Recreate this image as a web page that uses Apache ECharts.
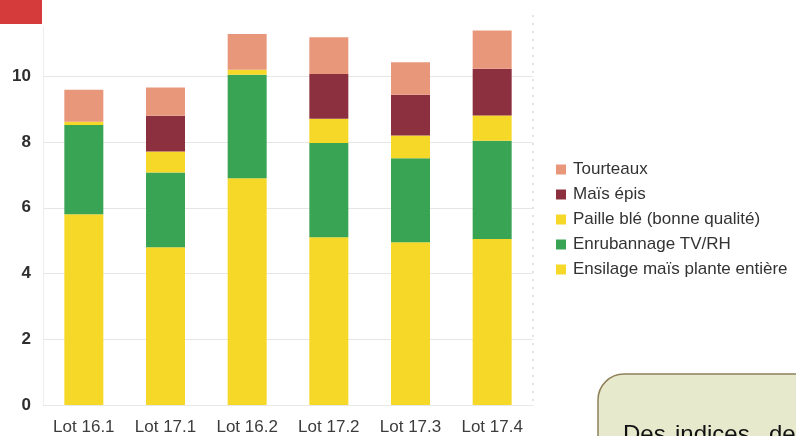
<!DOCTYPE html>
<html>
<head>
<meta charset="utf-8">
<script src="https://cdn.jsdelivr.net/npm/echarts@6/dist/echarts.min.js"></script>
<style>
  html, body { margin: 0; padding: 0; background: #ffffff; }
  #chart { width: 796px; height: 436px; }
</style>
</head>
<body>
<div id="chart"></div>
<script>
// Ration composition per lot (stacked, kg MS)
const categories = ['Lot 16.1', 'Lot 17.1', 'Lot 16.2', 'Lot 17.2', 'Lot 17.3', 'Lot 17.4'];
const ensilageMais = [5.8, 4.8, 6.9, 5.1, 4.95, 5.05];
const enrubannage  = [2.72, 2.27, 3.15, 2.87, 2.56, 2.99];
const pailleBle    = [0.1, 0.64, 0.15, 0.74, 0.69, 0.77];
const maisEpis     = [0, 1.09, 0, 1.36, 1.24, 1.42];
const tourteaux    = [0.97, 0.86, 1.09, 1.12, 0.99, 1.16];
const yTicks = [0, 2, 4, 6, 8, 10];

const YELLOW = '#f6d829';
const FONT = 'Liberation Sans, Arial, sans-serif';
const seriesDefs = [
  { name: 'Ensilage maïs plante entière', data: ensilageMais, color: YELLOW },
  { name: 'Enrubannage TV/RH', data: enrubannage, color: '#3aa455' },
  { name: 'Paille blé (bonne qualité)', data: pailleBle, color: YELLOW },
  { name: 'Maïs épis', data: maisEpis, color: '#8c3040' },
  { name: 'Tourteaux', data: tourteaux, color: '#e9977b' }
];

// grid lines only on the labelled ticks, none on the axis top
const gridColors = yTicks.map(() => '#e6e6e6').concat(['rgba(0,0,0,0)']);

const chart = echarts.init(document.getElementById('chart'), null, { renderer: 'canvas' });

chart.setOption({
  animation: false,
  backgroundColor: '#ffffff',
  grid: { left: 43, right: 263, top: 27, bottom: 31, containLabel: false },
  legend: {
    orient: 'vertical',
    left: 556,
    top: 161,
    padding: 0,
    itemWidth: 10,
    itemHeight: 10,
    itemGap: 8,
    icon: 'rect',
    data: ['Tourteaux', 'Maïs épis', 'Paille blé (bonne qualité)', 'Enrubannage TV/RH', 'Ensilage maïs plante entière'],
    textStyle: { color: '#333333', fontSize: 17, fontFamily: FONT, padding: [0, 0, 0, 2] }
  },
  xAxis: {
    type: 'category',
    data: categories,
    axisLine: { show: true, lineStyle: { color: '#e8e8e8' } },
    axisTick: { show: false },
    axisLabel: { color: '#3c3c3c', fontSize: 17, fontFamily: FONT, margin: 14 }
  },
  yAxis: {
    type: 'value',
    min: 0,
    max: 11.5,
    interval: 2,
    axisLine: { show: true, lineStyle: { color: '#eeeeee' } },
    axisTick: { show: false },
    axisLabel: {
      color: '#2e2e2e', fontSize: 17, fontWeight: 'bold', margin: 12,
      fontFamily: FONT,
      formatter: v => (yTicks.indexOf(v) >= 0 ? String(v) : '')
    },
    splitLine: { lineStyle: { color: gridColors } }
  },
  series: seriesDefs.map(s => ({
    name: s.name,
    type: 'bar',
    stack: 'total',
    barWidth: 39,
    data: s.data,
    itemStyle: { color: s.color }
  })),
  graphic: [
    { type: 'rect', left: 0, top: 0, shape: { width: 42, height: 24 }, style: { fill: '#d63b3b' } },
    { type: 'line', shape: { x1: 533, y1: 15, x2: 533, y2: 405 }, style: { stroke: '#c8c8c8', lineWidth: 1, lineDash: [2, 6] } },
    { type: 'rect', shape: { x: 598, y: 374, width: 240, height: 100, r: 26 },
      style: { fill: '#e7e9cd', stroke: '#8f805a', lineWidth: 1.5 } },
    { type: 'text', x: 623, y: 423, style: { text: 'Des', fill: '#111111', fontSize: 24, fontFamily: FONT } },
    { type: 'text', x: 675, y: 423, style: { text: 'indices', fill: '#111111', fontSize: 24, fontFamily: FONT } },
    { type: 'text', x: 769, y: 423, style: { text: 'de', fill: '#111111', fontSize: 24, fontFamily: FONT } }
  ]
});
</script>
</body>
</html>
